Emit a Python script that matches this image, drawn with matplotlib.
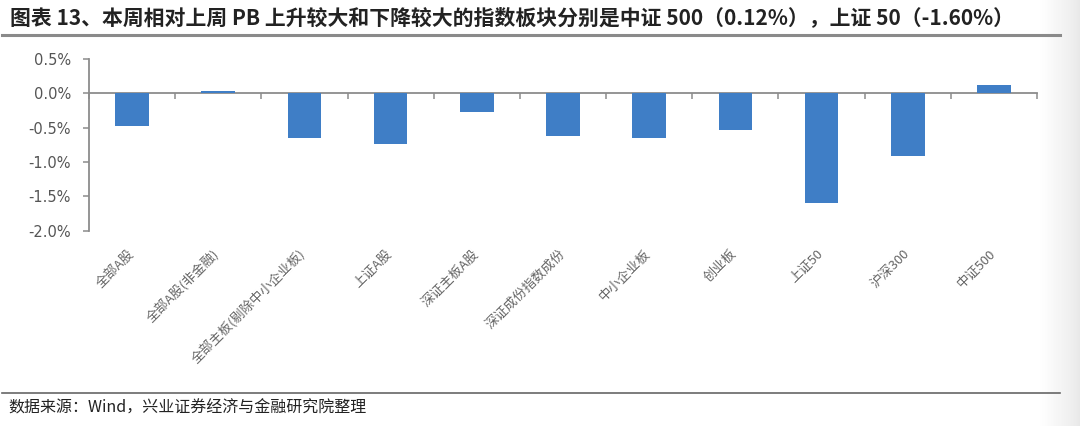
import numpy as np
import matplotlib
matplotlib.use('Agg')
import matplotlib.pyplot as plt
from matplotlib.lines import Line2D
from matplotlib.transforms import blended_transform_factory

plt.rcParams['font.family'] = ['Noto Sans CJK SC', 'DejaVu Sans']

# Data (% change of PB vs last week)
categories = ['全部A股', '全部A股(非金融)', '全部主板(剔除中小企业板)', '上证A股', '深证主板A股',
              '深证成份指数成份', '中小企业板', '创业板', '上证50', '沪深300', '中证500']
pb_change = [-0.47, 0.04, -0.65, -0.74, -0.27, -0.62, -0.65, -0.54, -1.60, -0.91, 0.12]
y_ticks = [0.5, 0.0, -0.5, -1.0, -1.5, -2.0]

title = '图表 13、本周相对上周 PB 上升较大和下降较大的指数板块分别是中证 500（0.12%），上证 50（-1.60%）'
source = '数据来源：Wind，兴业证券经济与金融研究院整理'

W, H = 1080, 426
fig = plt.figure(figsize=(W / 100, H / 100), dpi=100)
fig.patch.set_facecolor('white')

# light grey shading on the right edge (scan artefact)
bg = fig.add_axes([1040 / W, 0, 40 / W, 1], zorder=-5)
grad = np.linspace(0, 1, 100).reshape(1, -1)
bg.imshow(grad, aspect='auto', cmap='Greys', vmin=0, vmax=6.0, extent=[0, 1, 0, 1])
bg.axis('off')

ax = fig.add_axes([89 / W, 1 - 230.7 / H, 948 / W, (230.7 - 59) / H])
x = np.arange(len(categories))
ax.bar(x, pb_change, width=0.39, color='#3f7ec6', zorder=3)

ax.set_xlim(-0.5, len(categories) - 0.5)
ax.set_ylim(-2.0, 0.5)
ax.set_yticks(y_ticks)
ax.set_yticklabels([f'{v:.1f}%' for v in y_ticks], family='DejaVu Sans',
                   fontsize=10.5, color='#555555')
ax.set_xticks(np.arange(-0.5, len(categories), 1.0))
ax.set_xticklabels([])

for s in ['top', 'right']:
    ax.spines[s].set_visible(False)
ax.spines['bottom'].set_position(('data', 0))
for s in ['left', 'bottom']:
    ax.spines[s].set_color('#8c8c8c')
    ax.spines[s].set_linewidth(1.3)
ax.tick_params(axis='both', direction='out', length=4, width=1.1, color='#8c8c8c')
ax.tick_params(axis='y', pad=9)

trans = blended_transform_factory(ax.transData, ax.transAxes)
for i, lab in enumerate(categories):
    ax.annotate(lab, xy=(i, 0), xycoords=trans, xytext=(3, -12), textcoords='offset points',
                rotation=45, ha='right', va='top', fontsize=9.5, color='#666666')

fig.text(10 / W, 1 - 18 / H, title, fontsize=15, fontweight='bold', color='#222222',
         ha='left', va='center')
fig.add_artist(Line2D([2 / W, 1060 / W], [1 - 35 / H, 1 - 35 / H], color='#8a8a8a', lw=2.2))
fig.add_artist(Line2D([2 / W, 1060 / W], [1 - 393 / H, 1 - 393 / H], color='#666666', lw=1.2))
fig.text(8 / W, 1 - 408 / H, source, fontsize=11.5, color='#222222', ha='left', va='center')

fig.savefig('out.png', dpi=100, facecolor='white')
